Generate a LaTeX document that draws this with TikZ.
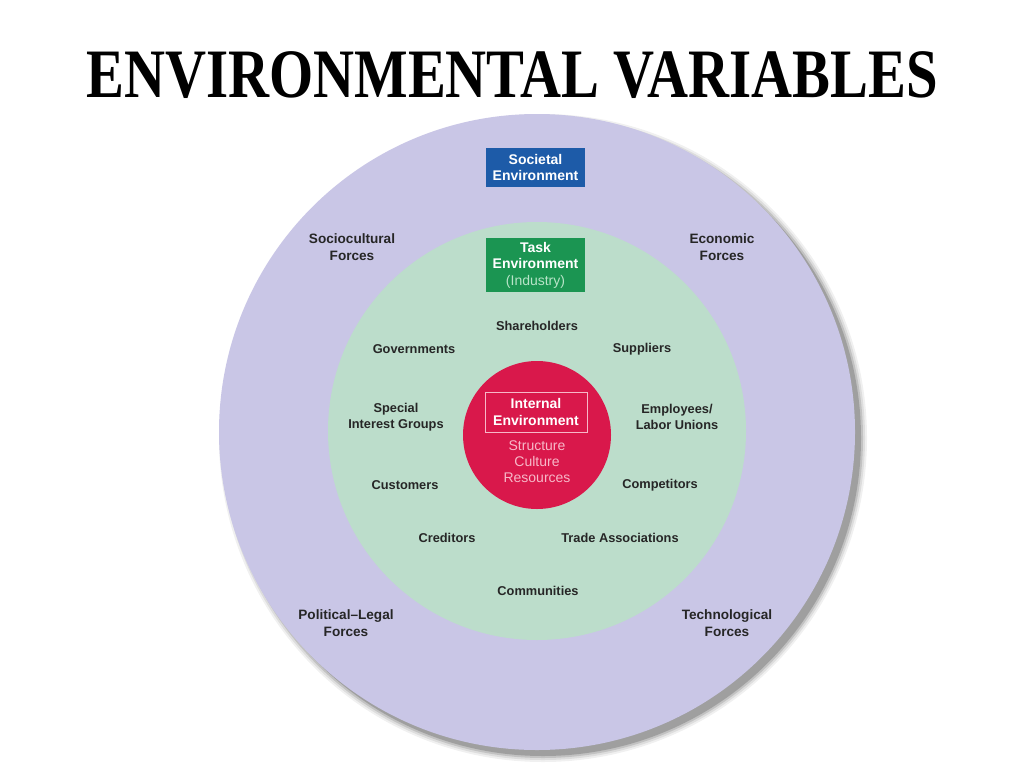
\documentclass[tikz,border=0pt]{standalone}
\usepackage{fontspec}
\setmainfont{Liberation Sans}
\newfontfamily\titlefont{Liberation Serif}
\usetikzlibrary{positioning}
\definecolor{outerc}{HTML}{C9C6E6}
\definecolor{taskc}{HTML}{BCDDCB}
\definecolor{redc}{HTML}{D9184B}
\definecolor{bluebox}{HTML}{1D5BA8}
\definecolor{greenbox}{HTML}{1B9552}
\definecolor{labc}{HTML}{262626}
\definecolor{pinkt}{HTML}{F7B8C8}
\definecolor{paleg}{HTML}{B8E4C8}
\tikzset{
  outerlab/.style={align=center, text=labc, font=\bfseries\fontsize{13.6}{16.5}\selectfont, inner sep=0pt},
  innerlab/.style={align=center, text=labc, font=\bfseries\fontsize{12.8}{16}\selectfont, inner sep=0pt},
  envbox/.style={align=center, text=white, font=\bfseries\fontsize{14}{16.5}\selectfont, inner sep=0pt, minimum width=99pt},
  ring/.style={circle, inner sep=0pt, draw=none}
}
\begin{document}
\begin{tikzpicture}[x=1pt,y=-1pt]
\useasboundingbox (0,0) rectangle (1024,768);
\fill[white] (0,0) rectangle (1024,768);
% title
\node (title) at (512,75) {\scalebox{0.835}[1.02]{\titlefont\bfseries\fontsize{68}{70}\selectfont ENVIRONMENTAL VARIABLES}};
% shadow of outer circle
\foreach \r/\o in {324/0.06,322/0.08,320/0.12,318/0.18}
  \fill[black, opacity=\o] (543,438) circle[radius=\r pt];
% circles
\node[ring, fill=outerc, minimum size=636pt] (outer) at (537,432) {};
\node[ring, fill=taskc, minimum size=418pt] (task) at (537,431) {};
\node[ring, fill=redc, minimum size=148pt] (internal) at (537,435) {};
% boxes
\node[envbox, fill=bluebox, minimum height=39pt] (societal) at (535.5,167.5) {Societal\\Environment};
\node[envbox, fill=greenbox, minimum height=54pt] (taskbox) at (535.5,265) {Task\\Environment\\{\mdseries\color{paleg}(Industry)}};
\node[envbox, draw=pinkt, line width=0.6pt, fill=none, minimum width=102pt, minimum height=40pt] (intbox) at (536,412) {Internal\\Environment};
\node[align=center, text=pinkt, font=\fontsize{14}{16}\selectfont, inner sep=0pt] (icontent) at (537,462) {Structure\\Culture\\Resources};
% societal forces
\node[outerlab] (socio) at (352,247) {Sociocultural\\Forces};
\node[outerlab] (econ) at (722,247) {Economic\\Forces};
\node[outerlab] (polit) at (346,623) {Political--Legal\\Forces};
\node[outerlab] (tech) at (727,623) {Technological\\Forces};
% task environment
\node[innerlab] (share) at (537,326) {Shareholders};
\node[innerlab] (gov) at (414,349) {Governments};
\node[innerlab] (supp) at (642,349) {Suppliers};
\node[innerlab] (special) at (396,417) {Special\\Interest Groups};
\node[innerlab] (employ) at (677,417) {Employees/\\Labor Unions};
\node[innerlab] (cust) at (405,485) {Customers};
\node[innerlab] (comp) at (660,485) {Competitors};
\node[innerlab] (cred) at (447,538) {Creditors};
\node[innerlab] (trade) at (620,538) {Trade Associations};
\node[innerlab] (comm) at (538,591) {Communities};
\end{tikzpicture}
\end{document}
